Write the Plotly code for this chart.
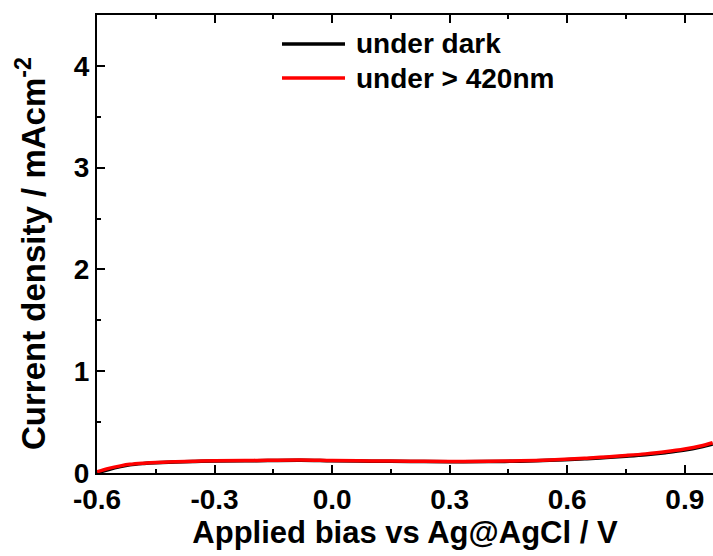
import plotly.graph_objects as go

bias = [-0.6, -0.57, -0.54, -0.516, -0.48, -0.45, -0.4, -0.35, -0.3, -0.2, -0.08, 0.0, 0.1, 0.2, 0.3, 0.4, 0.46, 0.52, 0.594, 0.65, 0.7, 0.75, 0.8, 0.85, 0.9, 0.94, 0.971]
dark = [0.0, 0.035, 0.063, 0.08, 0.093, 0.1, 0.108, 0.113, 0.117, 0.121, 0.125, 0.12, 0.116, 0.113, 0.11, 0.112, 0.115, 0.12, 0.13, 0.14, 0.152, 0.165, 0.18, 0.2, 0.225, 0.255, 0.285]
light = [0.012, 0.045, 0.07, 0.085, 0.097, 0.104, 0.111, 0.116, 0.12, 0.124, 0.128, 0.123, 0.119, 0.116, 0.113, 0.115, 0.118, 0.124, 0.135, 0.146, 0.158, 0.172, 0.188, 0.208, 0.235, 0.265, 0.298]
series_names = ["under dark", "under > 420nm"]
series_colors = ["black", "#ff0000"]

font = "Liberation Sans, Arial, sans-serif"

W, H = 713, 556
L, R, T, B = 97, 0, 15, 83
pw, ph = W - L - R, H - T - B

def px(x):
    return (x - L) / pw

def py(y):
    return (H - B - y) / ph

fig = go.Figure()
for name, ys, col in zip(series_names, [dark, light], series_colors):
    fig.add_trace(go.Scatter(x=bias, y=ys, mode="lines", name=name, showlegend=False,
                             line=dict(color=col, width=3.5, shape="spline")))

axis_common = dict(showgrid=False, zeroline=False, showline=True, linecolor="black", linewidth=2,
                   ticks="inside", tickwidth=2, ticklen=8, tickcolor="black",
                   tickfont=dict(family=font, size=28, color="black", weight="bold"))

fig.update_xaxes(range=[-0.6, 0.972], tickvals=[-0.6, -0.3, 0.0, 0.3, 0.6, 0.9],
                 ticktext=["-0.6", "-0.3", "0.0", "0.3", "0.6", "0.9"],
                 mirror="ticks",
                 minor=dict(dtick=0.15, tick0=-0.6, ticks="inside", ticklen=4, tickwidth=2, tickcolor="black"),
                 title=dict(text="Applied bias vs Ag@AgCl / V", standoff=4,
                            font=dict(family=font, size=31, color="black", weight="bold")),
                 **axis_common)
fig.update_yaxes(range=[0, 4.5], tickvals=[0, 1, 2, 3, 4],
                 minor=dict(dtick=0.5, tick0=0, ticks="inside", ticklen=4, tickwidth=2, tickcolor="black"),
                 **axis_common)

# y-axis title as annotation for exact placement
fig.add_annotation(text="Current density / mAcm<sup>-2</sup>", xref="paper", yref="paper",
                   x=px(31), y=py(254), xanchor="center", yanchor="middle", textangle=-90,
                   showarrow=False, font=dict(family=font, size=33, color="black", weight="bold"))

# legend drawn manually
legend_rows = [44, 78]
for name, col, ry in zip(series_names, series_colors, legend_rows):
    fig.add_shape(type="line", xref="paper", yref="paper", x0=px(282), x1=px(345),
                  y0=py(ry), y1=py(ry), line=dict(color=col, width=3.5))
    fig.add_annotation(text=name, xref="paper", yref="paper", x=px(354), y=py(ry),
                       xanchor="left", yanchor="middle", showarrow=False,
                       font=dict(family=font, size=28, color="black", weight="bold"))

fig.update_layout(width=W, height=H, margin=dict(l=L, r=R, t=T, b=B),
                  plot_bgcolor="white", paper_bgcolor="white", showlegend=False)

fig.write_html("out.html")
